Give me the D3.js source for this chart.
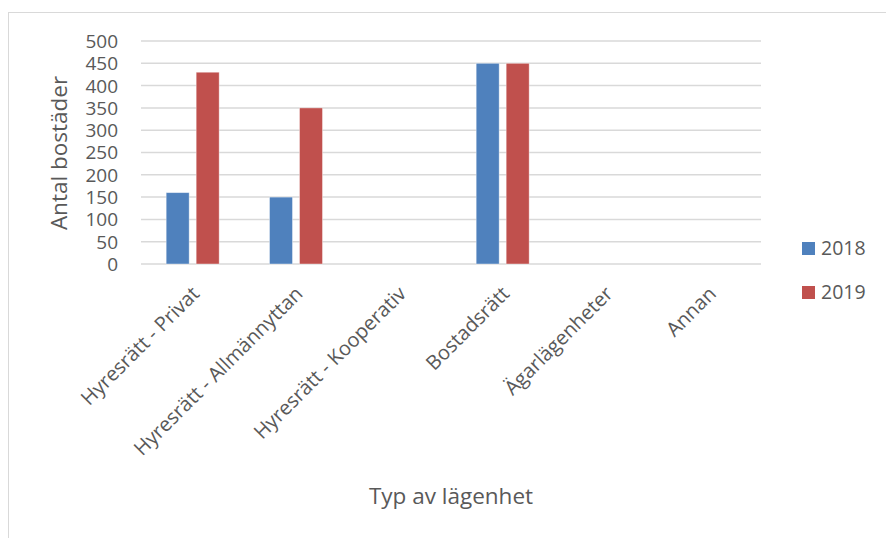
<!DOCTYPE html>
<html>
<head>
<meta charset="utf-8">
<script src="https://cdn.jsdelivr.net/npm/d3@7"></script>
<style>
  html, body { margin: 0; padding: 0; background: #fff; }
  svg { display: block; }
  text { font-family: "Open Sans", sans-serif; fill: #595959; }
</style>
</head>
<body>
<svg id="chart" width="886" height="538"></svg>
<script>
const categories = [
  "Hyresrätt - Privat",
  "Hyresrätt - Allmännyttan",
  "Hyresrätt - Kooperativ",
  "Bostadsrätt",
  "Ägarlägenheter",
  "Annan"
];
const seriesNames = ["2018", "2019"];
const values2018 = [160, 150, 0, 450, 0, 0];
const values2019 = [430, 350, 0, 450, 0, 0];
const yTicks = [0, 50, 100, 150, 200, 250, 300, 350, 400, 450, 500];
const colors = ["#4f81bd", "#c0504d"];

const svg = d3.select("#chart");
const plot = { left: 141, right: 761, top: 41, bottom: 264 };

// chart area frame
svg.append("rect")
  .attr("x", 8.5).attr("y", 12.5)
  .attr("width", 1000).attr("height", 1000)
  .attr("fill", "none").attr("stroke", "#d9d9d9").attr("stroke-width", 1);

const x = d3.scaleBand().domain(categories).range([plot.left, plot.right]).paddingInner(0).paddingOuter(0);
const y = d3.scaleLinear().domain([0, 500]).range([plot.bottom, plot.top]);

// gridlines
svg.append("g").selectAll("line").data(yTicks).join("line")
  .attr("x1", plot.left).attr("x2", plot.right)
  .attr("y1", d => y(d)).attr("y2", d => y(d))
  .attr("stroke", "#d9d9d9").attr("stroke-width", 1.5);

// y tick labels
const yAxis = d3.axisLeft(y).tickValues(yTicks).tickSize(0).tickPadding(0);
const gy = svg.append("g").attr("transform", `translate(118,0)`).call(yAxis);
gy.select(".domain").remove();
gy.selectAll("text")
  .attr("font-family", "Open Sans, sans-serif")
  .attr("font-size", 19).attr("fill", "#595959").attr("dy", "0.34em");

// bars
const series = [values2018, values2019];
const barW = 23, gap = 7;
series.forEach((vals, si) => {
  svg.append("g").selectAll("rect").data(categories).join("rect")
    .attr("x", (c) => x(c) + x.bandwidth() / 2 - (barW + gap / 2) + si * (barW + gap))
    .attr("width", barW)
    .attr("y", (c, i) => y(vals[i]))
    .attr("height", (c, i) => y(0) - y(vals[i]))
    .attr("fill", colors[si])
    .attr("stroke", "#fff").attr("stroke-opacity", 0.5).attr("stroke-width", 0.8)
    .style("display", (c, i) => vals[i] > 0 ? null : "none");
});

// x category labels, rotated
const xAxis = d3.axisBottom(x).tickSize(0).tickPadding(0);
const gx = svg.append("g").attr("transform", `translate(0,${plot.bottom})`).call(xAxis);
gx.select(".domain").remove();
gx.selectAll("text")
  .attr("font-family", "Open Sans, sans-serif")
  .attr("font-size", 20).attr("fill", "#595959")
  .attr("text-anchor", "end")
  .attr("dy", null)
  .attr("transform", "translate(8,31) rotate(-45)");

// axis titles
svg.append("text")
  .attr("transform", "translate(67,153) rotate(-90)")
  .attr("text-anchor", "middle")
  .attr("font-size", 22.5)
  .text("Antal bostäder");

svg.append("text")
  .attr("x", 451).attr("y", 504)
  .attr("text-anchor", "middle")
  .attr("font-size", 22.5)
  .text("Typ av lägenhet");

// legend
const legend = svg.append("g");
seriesNames.forEach((name, i) => {
  const ly = 248 + i * 44;
  legend.append("rect")
    .attr("x", 802).attr("y", ly - 6).attr("width", 13).attr("height", 13)
    .attr("fill", colors[i]);
  legend.append("text")
    .attr("x", 821).attr("y", ly).attr("dy", "0.36em")
    .attr("font-size", 19.5)
    .text(name);
});
</script>
</body>
</html>
